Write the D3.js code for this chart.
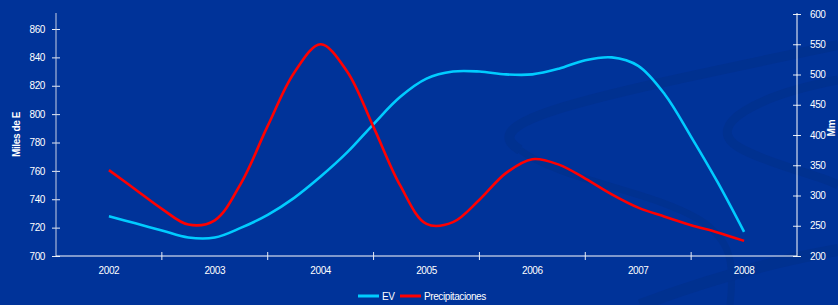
<!DOCTYPE html>
<html>
<head>
<meta charset="utf-8">
<script src="https://cdn.jsdelivr.net/npm/d3@7"></script>
<style>
  body { margin: 0; background: #003399; }
  svg { display: block; font-family: "Liberation Sans", Arial, sans-serif; }
  .axis text { fill: #fff; font-size: 10px; letter-spacing: -0.4px; }
  .axis line { stroke: #e8ecf4; }
</style>
</head>
<body>
<div id="chart"></div>
<script>
var years = [2002, 2003, 2004, 2005, 2006, 2007, 2008];

// quarterly readings, 2002.00 .. 2008.00
var quarters = [2002, 2002.25, 2002.5, 2002.75, 2003, 2003.25, 2003.5, 2003.75,
  2004, 2004.25, 2004.5, 2004.75, 2005, 2005.25, 2005.5, 2005.75,
  2006, 2006.25, 2006.5, 2006.75, 2007, 2007.25, 2007.5, 2007.75, 2008];

var ev = [728, 723, 718, 713, 713, 720, 729, 741,
  756, 773, 793, 812, 825, 830, 830, 828,
  828, 832, 838, 840, 834, 814, 784, 752, 717];

var precip = [342, 310, 278, 252, 259, 321, 415, 503,
  550, 505, 413, 317, 253, 256, 293, 337,
  360, 351, 328, 302, 280, 265, 251, 239, 225];

var leftTicks = [700, 720, 740, 760, 780, 800, 820, 840, 860];
var rightTicks = [200, 250, 300, 350, 400, 450, 500, 550, 600];

var W = 838, H = 305;
var mLeft = 56, mRight = 797, mTop = 13, mBottom = 256;

var svg = d3.select("#chart").append("svg")
    .attr("width", W)
    .attr("height", H);

svg.append("rect").attr("width", W).attr("height", H).attr("fill", "#003399");

// background swooshes
var deco = svg.append("g").attr("fill", "none").attr("stroke", "#003190");
deco.append("path").attr("stroke-width", 10)
  .attr("d", "M520,150 C470,120 600,95 838,45");
deco.append("path").attr("stroke-width", 9)
  .attr("d", "M838,80 C760,95 700,125 740,148 C770,165 820,175 838,185");
deco.append("path").attr("stroke-width", 7)
  .attr("d", "M520,150 C560,180 650,190 700,220 C730,240 735,260 730,305");
deco.append("path").attr("stroke-width", 12)
  .attr("d", "M640,305 C720,275 780,260 838,250");

var x = d3.scaleBand().domain(years).range([mLeft, mRight]);
var xt = d3.scaleLinear()
    .domain([2002, 2008])
    .range([x(2002) + x.bandwidth() / 2, x(2008) + x.bandwidth() / 2]);
var yL = d3.scaleLinear().domain([700, 860]).range([mBottom, 29]);
var yR = d3.scaleLinear().domain([200, 600]).range([mBottom, mTop + 1]);

// left axis
var gl = svg.append("g").attr("class", "axis")
    .attr("transform", "translate(" + mLeft + ",0)")
    .call(d3.axisLeft(yL).tickValues(leftTicks).tickSize(4).tickPadding(7).tickFormat(d3.format("d")));
gl.select(".domain").remove();
gl.selectAll(".tick line").attr("x1", 4).attr("x2", -4);
svg.append("line").attr("x1", mLeft).attr("x2", mLeft).attr("y1", mTop).attr("y2", mBottom)
  .attr("stroke", "#c8d0e4");

// right axis
var gr = svg.append("g").attr("class", "axis")
    .attr("transform", "translate(" + mRight + ",0)")
    .call(d3.axisRight(yR).tickValues(rightTicks).tickSize(4).tickPadding(9).tickFormat(d3.format("d")));
gr.select(".domain").remove();
gr.selectAll(".tick line").attr("x1", -4).attr("x2", 4);
svg.append("line").attr("x1", mRight).attr("x2", mRight).attr("y1", mTop).attr("y2", mBottom)
  .attr("stroke", "#ffffff");

// bottom axis
var gb = svg.append("g").attr("class", "axis")
    .attr("transform", "translate(0," + mBottom + ")")
    .call(d3.axisBottom(x).tickSize(0).tickPadding(11));
gb.select(".domain").remove();
svg.append("line").attr("x1", mLeft).attr("x2", mRight).attr("y1", mBottom).attr("y2", mBottom)
  .attr("stroke", "#ffffff");
svg.append("g").selectAll("line")
  .data(years.slice(1))
  .enter().append("line")
    .attr("x1", function(d) { return x(d); })
    .attr("x2", function(d) { return x(d); })
    .attr("y1", mBottom - 4)
    .attr("y2", mBottom + 4)
    .attr("stroke", "#e8ecf4");

// axis titles
svg.append("text")
  .attr("transform", "translate(20," + ((mTop + mBottom) / 2) + ") rotate(-90)")
  .attr("text-anchor", "middle")
  .attr("fill", "#fff").attr("font-size", 10).attr("font-weight", "bold")
  .attr("letter-spacing", -0.4)
  .text("Miles de E");
svg.append("text")
  .attr("transform", "translate(835,128) rotate(-90)")
  .attr("text-anchor", "middle")
  .attr("fill", "#fff").attr("font-size", 10).attr("font-weight", "bold")
  .text("Mm");

// lines
var evLine = d3.line()
    .x(function(d, i) { return xt(quarters[i]); })
    .y(function(d) { return yL(d); })
    .curve(d3.curveCatmullRom.alpha(0.5));
var prLine = d3.line()
    .x(function(d, i) { return xt(quarters[i]); })
    .y(function(d) { return yR(d); })
    .curve(d3.curveCatmullRom.alpha(0.5));

svg.append("path").datum(ev)
  .attr("d", evLine)
  .attr("fill", "none").attr("stroke", "#00ccff").attr("stroke-width", 2.6);
svg.append("path").datum(precip)
  .attr("d", prLine)
  .attr("fill", "none").attr("stroke", "#ff0000").attr("stroke-width", 2.6);

// legend
var legend = [
  { name: "EV", color: "#00ccff", x: 358 },
  { name: "Precipitaciones", color: "#ff0000", x: 400 }
];
var lg = svg.append("g").selectAll("g")
  .data(legend)
  .enter().append("g")
    .attr("transform", function(d) { return "translate(" + d.x + ",296)"; });
lg.append("line")
  .attr("x1", 0).attr("x2", 21)
  .attr("stroke", function(d) { return d.color; })
  .attr("stroke-width", 3);
lg.append("text")
  .attr("x", 24).attr("dy", "0.35em")
  .attr("fill", "#fff").attr("font-size", 10)
  .attr("letter-spacing", -0.4)
  .text(function(d) { return d.name; });
</script>
</body>
</html>
